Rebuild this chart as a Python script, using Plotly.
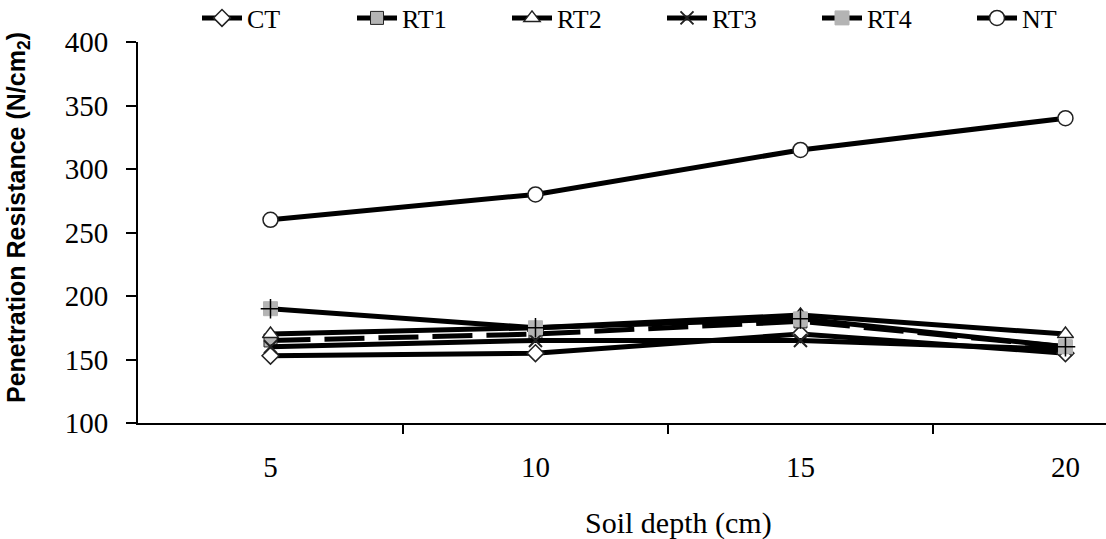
import plotly.graph_objects as go

depths = ["5", "10", "15", "20"]
yticks = [100, 150, 200, 250, 300, 350, 400]
CT = [153, 155, 170, 155]
RT1 = [165, 170, 180, 160]
RT2 = [170, 175, 185, 170]
RT3 = [160, 165, 165, 158]
RT4 = [190, 175, 182, 160]
NT = [260, 280, 315, 340]

xpos = [1, 2, 3, 4]
series = [
    ("CT", CT, dict(symbol="diamond", color="white", size=13, line=dict(color="#222", width=1.5)), "solid"),
    ("RT1", RT1, dict(symbol="square", color="#b4b4b4", size=13, line=dict(color="#222", width=1)), "40px,14px"),
    ("RT2", RT2, dict(symbol="triangle-up", color="white", size=14, line=dict(color="#222", width=1.5)), "solid"),
    ("RT3", RT3, dict(symbol="x-thin", color="#222", size=13, line=dict(color="#222", width=2)), "solid"),
    ("RT4", RT4, dict(symbol="square", color="#b4b4b4", size=14, line=dict(color="#b4b4b4", width=1)), "solid"),
    ("NT", NT, dict(symbol="circle", color="white", size=15, line=dict(color="#222", width=1.5)), "solid"),
]

fig = go.Figure()
for name, vals, mk, dash in series:
    fig.add_trace(go.Scatter(x=xpos, y=vals, name=name, mode="lines+markers",
                             line=dict(color="black", width=5, dash=dash), marker=mk))
    if name == "RT4":
        fig.add_trace(go.Scatter(x=xpos, y=vals, mode="markers", showlegend=False,
                                 marker=dict(symbol="cross-thin", size=14, color="black",
                                             line=dict(color="black", width=1.5))))

serif = "Liberation Serif"
fig.update_layout(
    width=1106, height=539,
    margin=dict(l=138, r=0, t=42, b=116, autoexpand=False),
    plot_bgcolor="white", paper_bgcolor="white",
    font=dict(family=serif, size=28, color="black", weight=400, style="normal"),
    showlegend=True,
    legend=dict(orientation="h", x=(197 - 138) / 968, xanchor="left", y=(423 - 18) / 381, yanchor="middle",
                font=dict(family=serif, size=26, weight=400, style="normal", color="black"),
                entrywidth=100, entrywidthmode="pixels", itemwidth=40,
                bgcolor="rgba(0,0,0,0)"),
    xaxis=dict(range=[0.5, 4.153], tickmode="array", tickvals=xpos, ticktext=depths, ticks="",
               showline=True, linecolor="black", linewidth=2, showgrid=False,
               zeroline=False, ticklabelstandoff=17,
               tickfont=dict(family=serif, size=29, weight=400, style="normal", color="black")),
    xaxis2=dict(range=[0.5, 4.153], overlaying="x", anchor="y", side="bottom",
                tickvals=[1.5, 2.5, 3.5], ticks="outside", ticklen=10, tickwidth=2,
                tickcolor="black", showticklabels=False, showgrid=False,
                zeroline=False, showline=False),
    yaxis=dict(range=[100, 400], tickmode="array", tickvals=yticks,
               ticktext=[str(v) for v in yticks],
               ticks="outside", ticklen=10, tickwidth=2, tickcolor="black",
               showline=True, linecolor="black", linewidth=2, showgrid=False,
               zeroline=False, ticklabelstandoff=12,
               tickfont=dict(family=serif, size=29, weight=400, style="normal", color="black")),
)
fig.add_trace(go.Scatter(x=[None], y=[None], xaxis="x2", showlegend=False, hoverinfo="skip"))

fig.add_annotation(text="<b>Penetration Resistance (N/cm<sub>2</sub>)</b>", textangle=-90,
                   xref="paper", yref="paper", x=(18 - 138) / 968, y=(423 - 218) / 381,
                   xanchor="center", yanchor="middle", showarrow=False,
                   font=dict(family="Liberation Sans", size=25, color="black"))
fig.add_annotation(text="Soil depth (cm)", xref="paper", yref="paper",
                   x=(678 - 138) / 968, y=(423 - 523) / 381, xanchor="center", yanchor="middle",
                   showarrow=False, font=dict(family=serif, size=30, color="black"))

fig.write_html("out.html")
